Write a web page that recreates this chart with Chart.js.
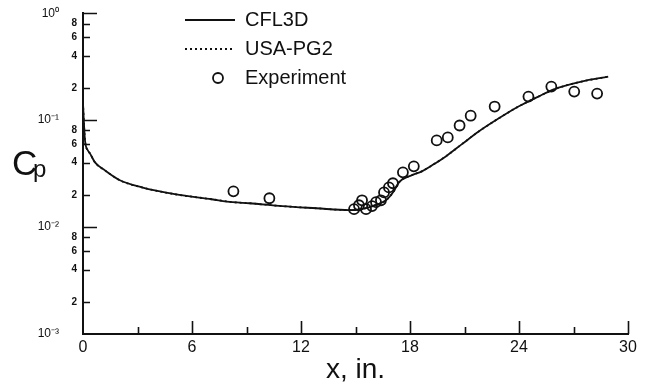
<!DOCTYPE html>
<html>
<head>
<meta charset="utf-8">
<script src="https://cdn.jsdelivr.net/npm/chart.js@4.4.1/dist/chart.umd.min.js"></script>
<style>
  html, body { margin: 0; padding: 0; background: #fff; }
</style>
</head>
<body>
<canvas id="cp-chart" width="648" height="387"></canvas>
<script>
// CFL3D surface Cp (solid line)
const cfl3dX  = [0, 0.05, 0.11, 0.27, 0.38, 0.66, 1.21, 2.03, 3.24, 5.05, 7.08, 8.23, 9.16, 10.97, 12.84, 14.65,
                 15.2, 15.74, 16.2, 16.68, 17.11, 17.39, 18.1, 18.65, 19.2, 19.97, 20.84, 21.78, 22.87, 23.97, 25.07, 25.89, 27.43, 28.91];
const cfl3dCp = [0.145, 0.095, 0.0646, 0.052, 0.0489, 0.0403, 0.0339, 0.0274, 0.0235, 0.0203, 0.0182, 0.0171, 0.0167, 0.0157, 0.015, 0.0144,
                 0.0146, 0.0153, 0.0163, 0.0178, 0.0216, 0.0262, 0.0305, 0.0332, 0.0377, 0.0458, 0.0593, 0.0783, 0.1035, 0.134, 0.166, 0.193, 0.229, 0.255];

// USA-PG2 (dotted) - lies on top of the CFL3D curve in the figure
const usaPg2X  = [0, 0.05, 0.11, 0.27, 0.38, 0.66, 1.21, 2.03, 3.24, 5.05, 7.08, 8.23, 9.16, 10.97, 12.84, 14.65,
                  15.2, 15.74, 16.2, 16.68, 17.11, 17.39, 18.1, 18.65, 19.2, 19.97, 20.84, 21.78, 22.87, 23.97, 25.07, 25.89, 27.43, 28.91];
const usaPg2Cp = [0.145, 0.095, 0.0646, 0.052, 0.0489, 0.0403, 0.0339, 0.0274, 0.0235, 0.0203, 0.0182, 0.0171, 0.0167, 0.0157, 0.015, 0.0144,
                  0.0146, 0.0153, 0.0163, 0.0178, 0.0216, 0.0262, 0.0305, 0.0332, 0.0377, 0.0458, 0.0593, 0.0783, 0.1035, 0.134, 0.166, 0.193, 0.229, 0.255];

// experiment (open circles)
const expX  = [8.28, 10.26, 14.92, 15.19, 15.36, 15.58, 15.91, 16.13, 16.4, 16.57, 16.84, 17.06, 17.61, 18.21,
               19.47, 20.08, 20.73, 21.34, 22.66, 24.52, 25.78, 27.04, 28.3];
const expCp = [0.0216, 0.0186, 0.0147, 0.016, 0.0178, 0.0147, 0.0157, 0.0171, 0.0178, 0.0211, 0.0235, 0.0257, 0.0325, 0.037,
               0.0646, 0.0689, 0.0891, 0.11, 0.134, 0.166, 0.206, 0.185, 0.177];

// axes
const xTickValues = [0, 3, 6, 9, 12, 15, 18, 21, 24, 27, 30];
const xTickLabels = ['0', '', '6', '', '12', '', '18', '', '24', '', '30'];
const yTickValues = [0.001, 0.002, 0.004, 0.006, 0.008, 0.01, 0.02, 0.04, 0.06, 0.08, 0.1, 0.2, 0.4, 0.6, 0.8, 1];
const yTickLabels = ['10⁻³', '2', '4', '6', '8', '10⁻²', '2', '4', '6', '8', '10⁻¹', '2', '4', '6', '8', '10⁰'];
const yDecades    = [0.001, 0.01, 0.1, 1];

const INK = '#111';
Chart.defaults.font.family = "'Liberation Sans', Arial, sans-serif";
Chart.defaults.color = INK;

const toPoints = (xs, ys) => xs.map((x, i) => ({ x: x, y: ys[i] }));

// legend symbol for the experiment: an open circle, sitting a bit right of centre
const legendCircle = (() => {
    const c = document.createElement('canvas');
    c.width = 30; c.height = 14;
    const g = c.getContext('2d');
    g.strokeStyle = INK;
    g.lineWidth = 1.8;
    g.beginPath();
    g.arc(23, 7, 5, 0, Math.PI * 2);
    g.stroke();
    return c;
})();

// inward tick marks like the original plot
const inwardTicks = {
    id: 'inwardTicks',
    afterDraw(chart) {
        const { ctx, chartArea: a, scales: { x, y } } = chart;
        ctx.save();
        ctx.strokeStyle = INK;
        ctx.lineWidth = 1.6;
        ctx.beginPath();
        y.ticks.forEach(t => {
            if (t.value === yTickValues[0]) return;
            const py = Math.round(y.getPixelForValue(t.value)) + 0.5;
            ctx.moveTo(a.left, py);
            ctx.lineTo(a.left + (t.major ? 14 : 7), py);
        });
        x.ticks.forEach(t => {
            if (t.value === xTickValues[0]) return;
            const px = Math.round(x.getPixelForValue(t.value)) + 0.5;
            ctx.moveTo(px, a.bottom);
            ctx.lineTo(px, a.bottom - (t.value % 6 === 0 ? 13 : 7));
        });
        ctx.stroke();
        ctx.restore();
    }
};

// horizontal "Cp" axis label
const cpLabel = {
    id: 'cpLabel',
    afterDraw(chart) {
        const ctx = chart.ctx;
        ctx.save();
        ctx.fillStyle = INK;
        ctx.textBaseline = 'alphabetic';
        ctx.textAlign = 'left';
        ctx.font = "35px 'Liberation Sans', Arial, sans-serif";
        ctx.fillText('C', 12, 175);
        ctx.font = "24px 'Liberation Sans', Arial, sans-serif";
        ctx.fillText('p', 33, 177);
        ctx.restore();
    }
};

// put the legend where the original has it
const legendPlace = {
    id: 'legendPlace',
    afterLayout(chart) {
        const lg = chart.legend;
        lg.left = 176;
        lg.top = 1;
        lg.right = 640;
        lg.bottom = 330;
    }
};

new Chart(document.getElementById('cp-chart'), {
    type: 'line',
    data: {
        datasets: [{
            label: 'CFL3D',
            data: toPoints(cfl3dX, cfl3dCp),
            borderColor: INK,
            backgroundColor: INK,
            borderWidth: 1.8,
            pointRadius: 0,
            pointStyle: 'line',
            cubicInterpolationMode: 'monotone'
        }, {
            label: 'USA-PG2',
            data: toPoints(usaPg2X, usaPg2Cp),
            borderColor: INK,
            backgroundColor: INK,
            borderWidth: 1.8,
            borderDash: [2, 3],
            pointRadius: 0,
            pointStyle: 'line',
            cubicInterpolationMode: 'monotone'
        }, {
            label: 'Experiment',
            type: 'scatter',
            data: toPoints(expX, expCp),
            showLine: false,
            pointStyle: 'circle',
            pointRadius: 5,
            pointBorderWidth: 1.8,
            borderWidth: 1.8,
            borderColor: INK,
            backgroundColor: 'rgba(0,0,0,0)'
        }]
    },
    options: {
        responsive: false,
        animation: false,
        devicePixelRatio: 1,
        layout: { padding: { top: 12, right: 20, bottom: 0, left: 0 } },
        plugins: {
            tooltip: { enabled: false },
            legend: {
                position: 'chartArea',
                align: 'start',
                labels: {
                    usePointStyle: true,
                    pointStyleWidth: 50,
                    boxHeight: 7.5,
                    padding: 9,
                    color: INK,
                    font: { size: 20, lineHeight: 1 },
                    generateLabels: chart => {
                        const items = Chart.defaults.plugins.legend.labels.generateLabels(chart);
                        items.forEach(it => {
                            const ds = chart.data.datasets[it.datasetIndex];
                            it.lineDash = ds.borderDash || [];
                            if (ds.pointStyle === 'circle') it.pointStyle = legendCircle;
                        });
                        return items;
                    }
                }
            }
        },
        scales: {
            x: {
                type: 'linear',
                min: 0,
                max: 30,
                afterBuildTicks: s => { s.ticks = xTickValues.map(v => ({ value: v })); },
                afterFit: s => { s.height = 53; },
                ticks: {
                    autoSkip: false,
                    maxRotation: 0,
                    padding: 4,
                    color: INK,
                    font: { size: 16 },
                    callback: v => xTickLabels[xTickValues.indexOf(v)]
                },
                grid: { display: false, drawTicks: false },
                border: { color: INK, width: 2 },
                title: {
                    display: true,
                    text: 'x, in.',
                    color: INK,
                    font: { size: 28, lineHeight: 1 },
                    padding: { top: 0, bottom: 3 }
                }
            },
            y: {
                type: 'logarithmic',
                min: 0.001,
                max: 1,
                afterBuildTicks: s => {
                    s.ticks = yTickValues.map(v => ({ value: v, major: yDecades.includes(v) }));
                },
                afterFit: s => { s.width = 83; },
                ticks: {
                    autoSkip: false,
                    padding: 6,
                    color: INK,
                    font: c => (c.tick && c.tick.major) ? { size: 12 } : { size: 10, weight: 'bold' },
                    callback: v => {
                        const i = yTickValues.indexOf(v);
                        return yDecades.includes(v) ? yTickLabels[i] + '\u2003\u2002' : yTickLabels[i];
                    }
                },
                grid: { display: false, drawTicks: false },
                border: { color: INK, width: 2 }
            }
        }
    },
    plugins: [inwardTicks, cpLabel, legendPlace]
});
</script>
</body>
</html>
